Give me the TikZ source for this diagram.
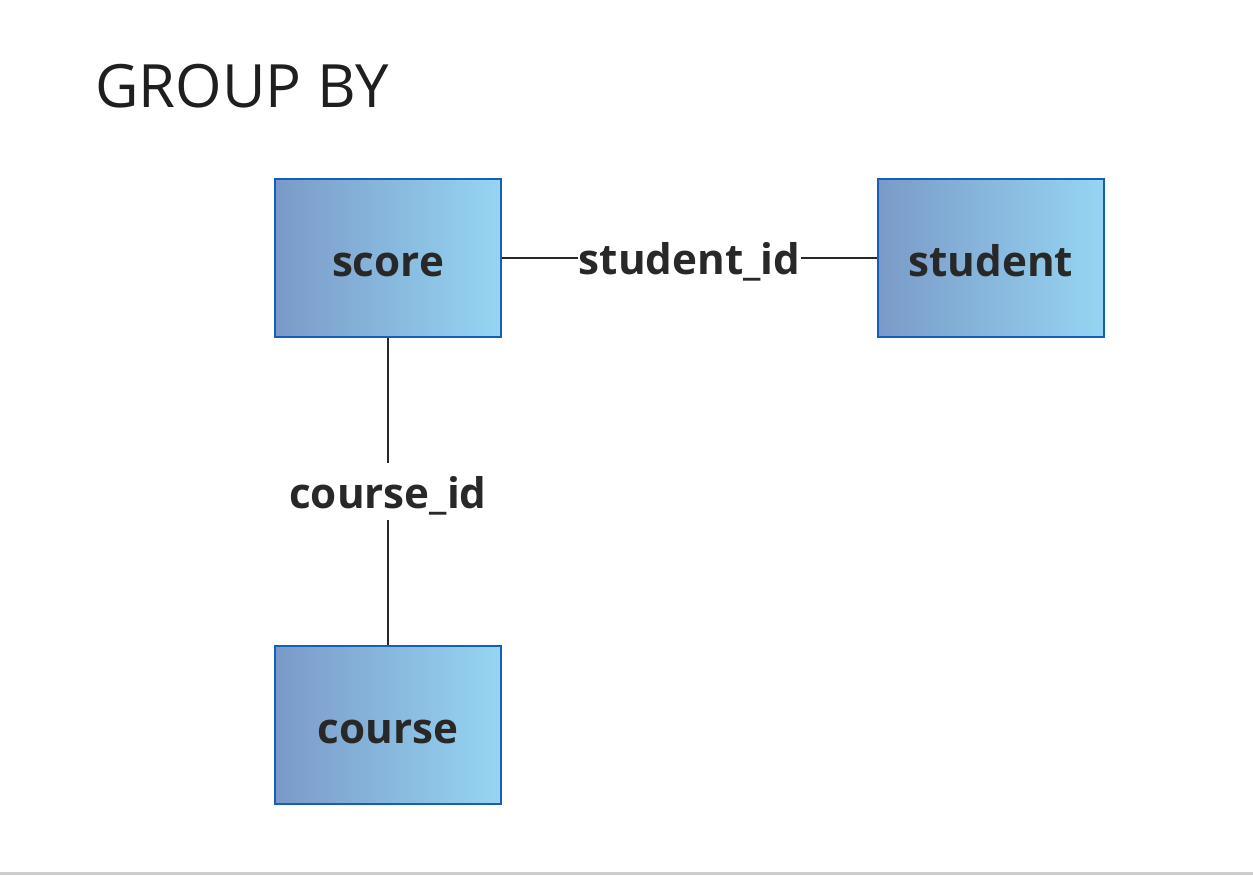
\documentclass[tikz,border=0pt]{standalone}
\usepackage{fontspec}
\setmainfont{Open Sans}
\usetikzlibrary{calc}

\definecolor{boxedge}{RGB}{20,95,185}
\definecolor{boxleft}{RGB}{122,154,200}
\definecolor{boxright}{RGB}{150,213,242}
\definecolor{inkgray}{RGB}{40,40,40}

\begin{document}
\begin{tikzpicture}[
    x=0.02cm, y=-0.02cm,
    table/.style={draw=boxedge, line width=1.6pt, left color=boxleft,
                  right color=boxright, minimum width=4.52cm,
                  minimum height=3.16cm, inner sep=0pt,
                  text height=21pt, text depth=0pt,
                  font=\fontsize{24}{28}\selectfont\bfseries, text=inkgray},
    relation/.style={line width=1.3pt, draw=inkgray},
    key/.style={fill=white, inner xsep=0.5pt, inner ysep=2pt, text=inkgray,
                text height=24pt, text depth=5pt,
                font=\fontsize{24}{28}\selectfont\bfseries},
  ]
  \useasboundingbox (0,0) rectangle (1253,875);
  \node[anchor=base west, inner sep=0pt, text=black!88,
        font=\fontsize{34}{38}\selectfont] (title) at (95,108) {GROUP BY};
  \node[table] (score) at (388,258) {score};
  \node[table] (student) at (991,258) {student};
  \node[table] (course) at (388,725) {course};

  % joins
  \draw[relation] (score) -- node[key] {student\_id} (student);
  \draw[relation] (score) -- node[key, pos=0.5] {course\_id} (course);
  % lower edge of the frame
  \coordinate (frameL) at (0,873.5);
  \coordinate (frameR) at (1253,873.5);
  \draw[black!20, line width=1.5pt] (frameL) -- (frameR);
\end{tikzpicture}
\end{document}
